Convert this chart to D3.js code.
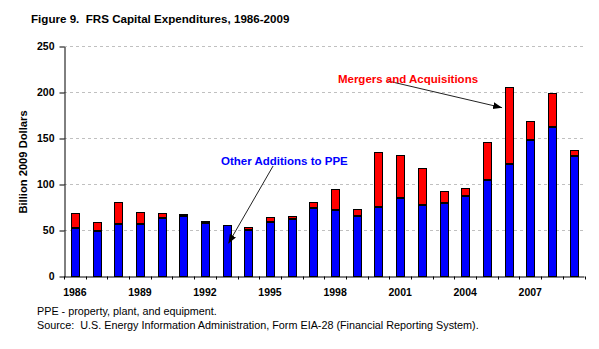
<!DOCTYPE html>
<html><head><meta charset="utf-8">
<script src="https://cdn.jsdelivr.net/npm/d3@7/dist/d3.min.js"></script>
<style>
body{margin:0;background:#fff}
svg{display:block;font-family:"Liberation Sans",Arial,sans-serif}
</style>
</head><body>
<svg id="c" width="599" height="349"></svg>
<script>
const years = [1986,1987,1988,1989,1990,1991,1992,1993,1994,1995,1996,1997,1998,1999,2000,2001,2002,2003,2004,2005,2006,2007,2008,2009];
const tickLabels = ["1986","1989","1992","1995","1998","2001","2004","2007"];
const otherAdditions = [53,50,57,57,64,66,58.5,55.5,50.5,59,63,74,72,66,75,85,78,80,87,105,122,148,163,131];
const mergersAcq = [16,9,23.5,13.5,5,1.5,1.5,1.5,3,5.5,2.5,7,23.5,7,60,47.5,39.5,12.5,9.5,41,84,20.5,37,7];
const yTicks = [0,50,100,150,200,250];
const seriesNames = ["Other Additions to PPE","Mergers and Acquisitions"];
const title = "Figure 9.  FRS Capital Expenditures, 1986-2009";
const yTitle = "Billion 2009 Dollars";
const notes = ["PPE - property, plant, and equipment.","Source:  U.S. Energy Information Administration, Form EIA-28 (Financial Reporting System)."];

const svg = d3.select("#c");
const L = 64, R = 584.5, T = 46.5, B = 276.5;
const x = d3.scaleBand().domain(years).range([L, R]).paddingInner(0.63).paddingOuter(0.315);
const xi = d3.scaleLinear().domain([0, years.length]).range([L, R]);
const y = d3.scaleLinear().domain([0, 250]).range([B, T]);

// title
svg.append("text").attr("x", 31).attr("y", 23)
  .style("white-space","pre").attr("font-weight","bold").attr("font-size", 11.6)
  .text(title);

// gridlines
svg.append("g").selectAll("line").data(yTicks.filter(v => v > 0)).join("line")
  .attr("x1", L).attr("x2", R)
  .attr("y1", d => y(d)).attr("y2", d => y(d))
  .attr("stroke", "#c0c0c0").attr("stroke-width", 1).attr("stroke-dasharray", "3,3");

// bars
const data = years.map((yr, i) => ({yr, a: otherAdditions[i], m: mergersAcq[i]}));
const bw = Math.round(x.bandwidth());
const bx = d => Math.round(x(d.yr)) + 0.5;
const g = svg.append("g").attr("stroke", "#000").attr("stroke-width", 1);
g.selectAll("rect.a").data(data).join("rect").attr("class","a")
  .attr("x", bx).attr("width", bw)
  .attr("y", d => Math.round(y(d.a)) + 0.5)
  .attr("height", d => B - (Math.round(y(d.a)) + 0.5))
  .attr("fill", "#0000ff");
g.selectAll("rect.m").data(data).join("rect").attr("class","m")
  .attr("x", bx).attr("width", bw)
  .attr("y", d => Math.round(y(d.a + d.m)) + 0.5)
  .attr("height", d => Math.max(0, Math.round(y(d.a)) - Math.round(y(d.a + d.m)) - 1))
  .attr("fill", "#ff0000");

// y axis
const ya = svg.append("g").attr("transform", `translate(${L + 0.5},0)`)
  .call(d3.axisLeft(y).tickValues(yTicks).tickSize(5).tickSizeOuter(0).tickPadding(5));
ya.select(".domain").attr("stroke", "#000");
ya.selectAll(".tick line").attr("stroke", "#000");
ya.selectAll(".tick text").attr("font-family", "Liberation Sans, Arial, sans-serif")
  .attr("font-size", 10.5).attr("font-weight", "bold").attr("fill", "#000");

// x axis
const xa = svg.append("g").attr("transform", `translate(0,${B})`)
  .call(d3.axisBottom(xi).tickValues(d3.range(years.length + 1)).tickFormat("").tickSize(3).tickSizeOuter(0));
xa.select(".domain").attr("stroke", "#000");
xa.selectAll(".tick line").attr("stroke", "#000");
xa.selectAll(".tick").attr("transform", d => `translate(${Math.round(xi(d)) + 0.5},0)`);
xa.select(".domain").attr("d", `M${L + 0.5},0.5H${R}`);

svg.append("g").selectAll("text").data(tickLabels).join("text")
  .attr("x", d => x(+d) + x.bandwidth() / 2).attr("y", 296)
  .attr("text-anchor", "middle").attr("font-size", 10.5).attr("font-weight", "bold")
  .text(d => d);

// y title
svg.append("text").attr("transform", "translate(27,162) rotate(-90)")
  .attr("text-anchor", "middle").attr("font-size", 11.2).attr("font-weight", "bold")
  .text(yTitle);

// annotations (positioned in data space)
const defs = svg.append("defs");
defs.append("marker").attr("id", "ah").attr("markerUnits", "userSpaceOnUse")
  .attr("markerWidth", 10).attr("markerHeight", 8).attr("refX", 9).attr("refY", 3.5)
  .attr("orient", "auto")
  .append("path").attr("d", "M0,0 L9,3.5 L0,7 Z").attr("fill", "#000");

const annots = [
  {text: seriesNames[1], color: "#ff0000", tx: 12.63, tv: 210.3, ax1: 14.94, av1: 212.5, ax2: 20.2, av2: 183.5},
  {text: seriesNames[0], color: "#0000ff", tx: 7.24, tv: 121.2, ax1: 9.64, av1: 120.1, ax2: 7.58, av2: 35.9}
];
annots.forEach(a => {
  svg.append("line").attr("x1", xi(a.ax1)).attr("y1", y(a.av1)).attr("x2", xi(a.ax2)).attr("y2", y(a.av2))
    .attr("stroke", "#222").attr("stroke-width", 1).attr("marker-end", "url(#ah)");
  svg.append("text").attr("x", xi(a.tx)).attr("y", y(a.tv))
    .attr("font-size", 11.5).attr("font-weight", "bold").attr("fill", a.color).text(a.text);
});

// footnotes
svg.append("g").selectAll("text").data(notes).join("text")
  .attr("x", 37).attr("y", (d, i) => 314.5 + i * 14)
  .style("white-space","pre").attr("font-size", 10.8).attr("fill", "#000")
  .text(d => d);
</script>
</body></html>
